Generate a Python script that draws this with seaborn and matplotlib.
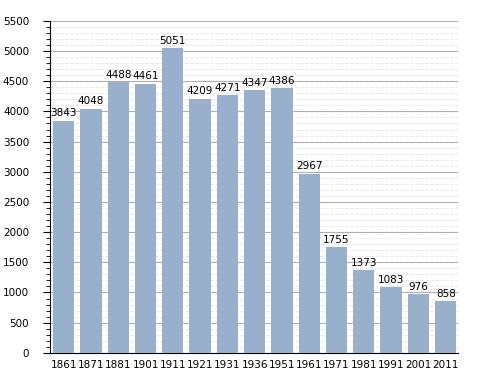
import matplotlib
matplotlib.use("Agg")
import matplotlib.pyplot as plt
import seaborn as sns
import pandas as pd
from matplotlib.ticker import MultipleLocator

years = ["1861", "1871", "1881", "1901", "1911", "1921", "1931", "1936",
         "1951", "1961", "1971", "1981", "1991", "2001", "2011"]
population = [3843, 4048, 4488, 4461, 5051, 4209, 4271, 4347,
              4386, 2967, 1755, 1373, 1083, 976, 858]

df = pd.DataFrame({"year": years, "pop": population})

sns.set_style("white")
plt.rcParams['font.family'] = ['DejaVu Sans']
plt.rcParams['text.color'] = 'black'
plt.rcParams['xtick.color'] = 'black'
plt.rcParams['ytick.color'] = 'black'

fig = plt.figure(figsize=(4.88, 3.73), dpi=100)
ax = fig.add_axes([0.1025, 0.054, 0.836, 0.89])

sns.barplot(data=df, x="year", y="pop", color="#98b0cc", saturation=1,
            width=0.78, linewidth=0, ax=ax, zorder=3)

ax.set_ylim(0, 5500)
ax.set_xlim(-0.5, 14.45)
ax.yaxis.set_major_locator(MultipleLocator(500))
ax.yaxis.set_minor_locator(MultipleLocator(100))
ax.grid(axis="y", which="major", color="#b0b0b0", linewidth=0.8, zorder=0)
ax.grid(axis="y", which="minor", color="#e4e4e4", linewidth=0.6,
        linestyle=(0, (4, 2)), zorder=0)
ax.set_axisbelow(True)

for i, v in enumerate(population):
    ax.text(i, v + 40, str(v), ha="center", va="bottom", fontsize=7.5,
            color="black")

sns.despine(ax=ax, top=True, right=True)
ax.spines["left"].set_color("black")
ax.spines["bottom"].set_color("black")
ax.tick_params(axis="y", which="major", left=True, length=5, width=0.8,
               labelsize=7.5, pad=10, colors="black")
ax.tick_params(axis="y", which="minor", left=True, length=3, width=0.6,
               colors="black")
ax.tick_params(axis="x", bottom=False, labelsize=7.5, pad=2,
               colors="black")
ax.set_xlabel("")
ax.set_ylabel("")

fig.savefig("out.png", dpi=100)
